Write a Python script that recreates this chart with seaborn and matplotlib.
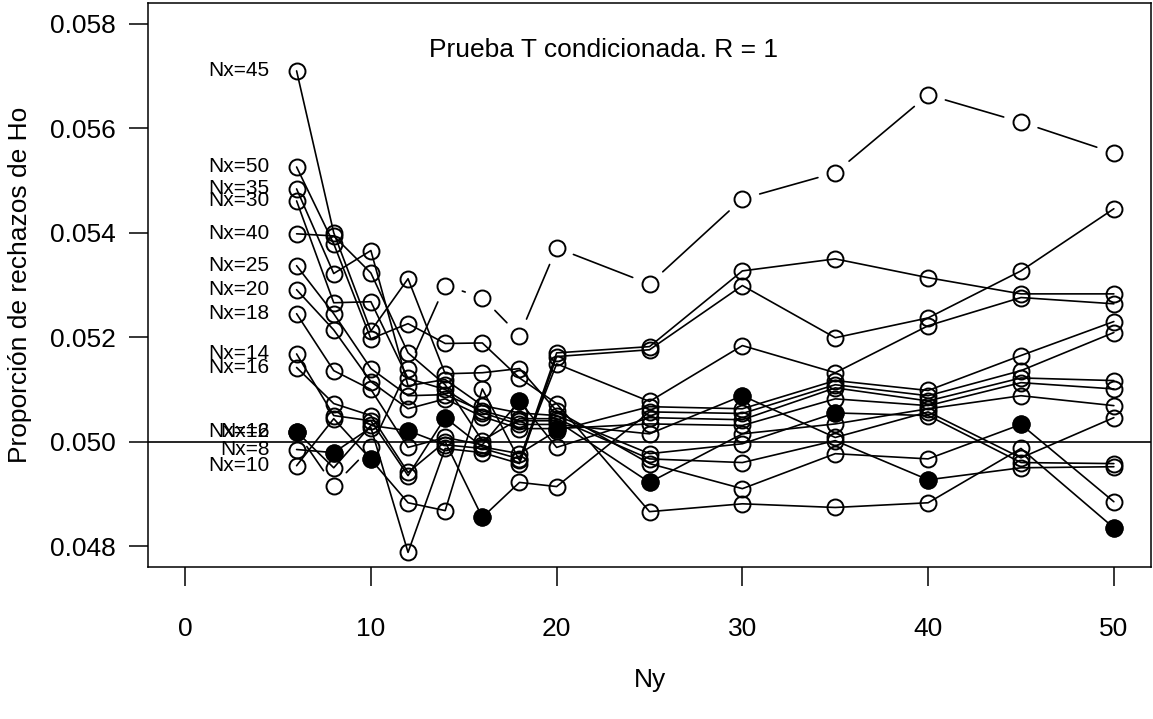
import numpy as np
import pandas as pd
import matplotlib
matplotlib.use('Agg')
import matplotlib.pyplot as plt
import seaborn as sns

# Ny values (x axis) shared by every Nx curve
ny = [6, 8, 10, 12, 14, 16, 18, 20, 25, 30, 35, 40, 45, 50]

# proportion of rejections of Ho, one list per Nx
nx_6 = [0.05019, 0.04916, 0.04989, 0.05140, 0.05299, 0.05276, 0.05203, 0.05371, 0.05302, 0.05465, 0.05515, 0.05664, 0.05612, 0.05553]
nx_8 = [0.04985, 0.04979, 0.05027, 0.04788, 0.04987, 0.04979, 0.04958, 0.05163, 0.05176, 0.05299, 0.05199, 0.05237, 0.05327, 0.05446]
nx_10 = [0.04954, 0.05044, 0.04966, 0.04883, 0.04868, 0.05101, 0.04964, 0.05170, 0.05182, 0.05327, 0.05350, 0.05314, 0.05283, 0.05283]
nx_12 = [0.05019, 0.04950, 0.05031, 0.05021, 0.04994, 0.04987, 0.04967, 0.05149, 0.05077, 0.05184, 0.05132, 0.05222, 0.05276, 0.05264]
nx_14 = [0.05168, 0.05050, 0.05040, 0.04935, 0.05046, 0.04990, 0.04977, 0.05021, 0.05067, 0.05063, 0.05117, 0.05098, 0.05165, 0.05230]
nx_16 = [0.05142, 0.05073, 0.05050, 0.04941, 0.05000, 0.04855, 0.04922, 0.04914, 0.05057, 0.05054, 0.05109, 0.05088, 0.05136, 0.05209]
nx_18 = [0.05245, 0.05136, 0.05100, 0.04989, 0.05008, 0.04994, 0.05078, 0.04989, 0.05046, 0.05042, 0.05103, 0.05078, 0.05122, 0.05117]
nx_20 = [0.05291, 0.05214, 0.05115, 0.05063, 0.05082, 0.05048, 0.05025, 0.05025, 0.05034, 0.05031, 0.05082, 0.05069, 0.05113, 0.05101]
nx_25 = [0.05337, 0.05245, 0.05140, 0.05088, 0.05090, 0.05059, 0.05040, 0.05040, 0.04922, 0.05015, 0.05034, 0.05063, 0.05088, 0.05069]
nx_30 = [0.05461, 0.05266, 0.05268, 0.05121, 0.05100, 0.05055, 0.05033, 0.05033, 0.05015, 0.05088, 0.05008, 0.05057, 0.04969, 0.05046]
nx_35 = [0.05484, 0.05322, 0.05366, 0.05107, 0.05119, 0.05069, 0.05055, 0.05050, 0.04977, 0.04996, 0.05055, 0.05050, 0.04960, 0.04958]
nx_40 = [0.05398, 0.05394, 0.05323, 0.05170, 0.05109, 0.05002, 0.05044, 0.05044, 0.04967, 0.04960, 0.05002, 0.04927, 0.04950, 0.04952]
nx_45 = [0.05710, 0.05400, 0.05212, 0.05312, 0.05130, 0.05132, 0.05140, 0.05059, 0.04958, 0.04910, 0.04977, 0.04967, 0.05033, 0.04885]
nx_50 = [0.05526, 0.05379, 0.05197, 0.05226, 0.05188, 0.05189, 0.05122, 0.05073, 0.04866, 0.04881, 0.04874, 0.04883, 0.04987, 0.04835]

series = {6: nx_6, 8: nx_8, 10: nx_10, 12: nx_12, 14: nx_14, 16: nx_16, 18: nx_18,
          20: nx_20, 25: nx_25, 30: nx_30, 35: nx_35, 40: nx_40, 45: nx_45, 50: nx_50}

y_ticks = [0.048, 0.050, 0.052, 0.054, 0.056, 0.058]
x_ticks = [0, 10, 20, 30, 40, 50]

rows = [(nx, x, v) for nx, vals in series.items() for x, v in zip(ny, vals)]
df = pd.DataFrame(rows, columns=['Nx', 'Ny', 'prop'])

sns.set_theme(style='ticks', rc={'axes.edgecolor': 'black', 'axes.linewidth': 1.1,
                                 'axes.labelcolor': 'black', 'text.color': 'black',
                                 'xtick.color': 'black', 'ytick.color': 'black'})
plt.rcParams['font.family'] = ['Liberation Sans', 'DejaVu Sans']

W, H = 1153, 719
fig = plt.figure(figsize=(W / 100, H / 100), dpi=100)
ax = fig.add_axes([148 / W, 1 - 567 / H, (1151 - 148) / W, (567 - 3) / H])
ax.set_xlim(-2, 52)
ax.set_ylim(0.0476, 0.0584)

ax.axhline(0.05, color='black', lw=1.2, zorder=1)

lw = 1.2
ms = 11.5
for nx, vals in series.items():
    d = df[df['Nx'] == nx]
    if nx == 6:
        # first curve drawn R "type b" style: segments stop short of the points
        pts = ax.transData.transform(np.column_stack([d['Ny'], d['prop']]))
        gap = 18.0
        for p0, p1 in zip(pts[:-1], pts[1:]):
            dist = np.hypot(*(p1 - p0))
            if dist > 2 * gap:
                u = (p1 - p0) / dist
                seg = ax.transData.inverted().transform([p0 + u * gap, p1 - u * gap])
                ax.plot(seg[:, 0], seg[:, 1], color='black', lw=lw, zorder=2)
        sns.lineplot(data=d, x='Ny', y='prop', ax=ax, color='black', linestyle='none',
                     marker='o', markersize=ms, markerfacecolor='none',
                     markeredgecolor='black', markeredgewidth=1.4, zorder=3)
    else:
        sns.lineplot(data=d, x='Ny', y='prop', ax=ax, color='black', lw=lw,
                     marker='o', markersize=ms, markerfacecolor='none',
                     markeredgecolor='black', markeredgewidth=1.4, zorder=3)
    # filled point where the design is balanced (Nx == Ny)
    bal = d[d['Ny'] == nx]
    sns.scatterplot(data=bal, x='Ny', y='prop', ax=ax, color='black', s=150,
                    edgecolor='black', linewidth=1.0, zorder=4)
    ax.annotate(f'Nx={nx}', xy=(6, vals[0]), xytext=(-19.5, 0), textcoords='offset points',
                ha='right', va='center', fontsize=15, color='black')

ax.text(22.5, 0.05750, 'Prueba T condicionada. R = 1', ha='center', va='center',
        fontsize=19, color='black')

ax.set_xticks(x_ticks)
ax.set_xticklabels([str(t) for t in x_ticks])
ax.set_yticks(y_ticks)
ax.set_yticklabels([f'{t:.3f}' for t in y_ticks])
ax.tick_params(axis='both', direction='out', length=14, width=1.1, labelsize=19,
               bottom=True, left=True, colors='black')
ax.tick_params(axis='x', pad=22)
ax.tick_params(axis='y', pad=9)

ax.set_xlabel('Ny', fontsize=19, color='black')
ax.set_ylabel('Proporción de rechazos de Ho', fontsize=19, color='black')
ax.xaxis.set_label_coords((650 - 148) / 1003, -(668 - 567) / 564)
ax.yaxis.set_label_coords((32 - 148) / 1003, 0.5)

fig.savefig('out.png', dpi=100)
